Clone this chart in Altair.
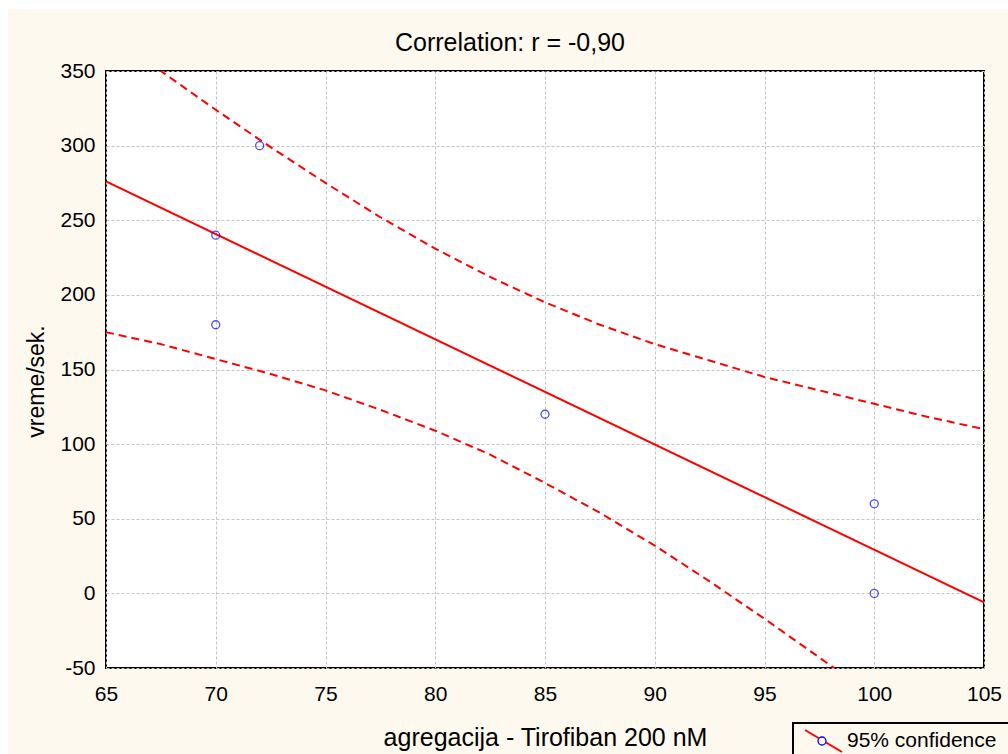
import altair as alt
import pandas as pd

# Observations
obs_x = [70, 70, 72, 85, 100, 100]
obs_y = [240, 180, 300, 120, 60, 0]

# Fitted regression line (end points)
fit_x = [65, 105]
fit_y = [276, -6]

# 95% confidence band around the fit
band_x = [65, 67.5, 70, 72.5, 75, 77.5, 80, 82.5, 85, 87.5, 90, 92.5, 95, 97.5, 100, 102.5, 105]
band_upper = [376, 350, 324, 299, 275, 252, 231, 212, 195, 180, 167, 156, 145, 136, 127, 118, 110]
band_lower = [175, 167, 157, 147, 136, 123, 109, 93, 74, 54, 32, 8, -17, -43, -69, -96, -123]

x_ticks = [65, 70, 75, 80, 85, 90, 95, 100, 105]
y_ticks = [-50, 0, 50, 100, 150, 200, 250, 300, 350]

TITLE = "Correlation: r = -0,90"
FONT = "Liberation Sans"
CREAM = "#fdf9ef"
W, H = 878, 597

obs = pd.DataFrame({"x": obs_x, "y": obs_y})
fit = pd.DataFrame({"x": fit_x, "y": fit_y})
band = pd.concat([
    pd.DataFrame({"x": band_x, "y": band_upper, "edge": "upper"}),
    pd.DataFrame({"x": band_x, "y": band_lower, "edge": "lower"}),
])
one = pd.DataFrame({"k": [0]})

x_enc = alt.X(
    "x:Q",
    scale=alt.Scale(domain=[65, 105], nice=False, zero=False),
    axis=alt.Axis(
        values=x_ticks, grid=True, gridColor="#c4c4c4", gridDash=[3, 2], gridWidth=1,
        domain=False, ticks=False, tickSize=0, labelFlush=False,
        labelExpr="'' + datum.value",
        labelFont=FONT, labelFontSize=21, labelColor="black", labelPadding=15,
        title="agregacija - Tirofiban 200 nM", titleFont=FONT, titleFontSize=25,
        titleFontWeight="normal", titleColor="black",
        titleX=439, titleY=77, titleBaseline="alphabetic",
    ),
)
y_enc = alt.Y(
    "y:Q",
    scale=alt.Scale(domain=[-50, 350], nice=False, zero=False),
    axis=alt.Axis(
        values=y_ticks, grid=True, gridColor="#c4c4c4", gridDash=[3, 2], gridWidth=1,
        domain=False, ticks=False, tickSize=0, labelFlush=False,
        labelExpr="'' + datum.value",
        labelFont=FONT, labelFontSize=21, labelColor="black", labelPadding=11,
        title="vreme/sek.", titleFont=FONT, titleFontSize=23,
        titleFontWeight="normal", titleColor="black", titleAngle=270,
        titleX=-63, titleY=310, titleBaseline="alphabetic",
    ),
)

band_lines = alt.Chart(band).mark_line(
    color="#ff0000", strokeWidth=2, strokeDash=[8, 5], clip=True
).encode(x=x_enc, y=y_enc, detail="edge:N")

fit_line = alt.Chart(fit).mark_line(
    color="#ff0000", strokeWidth=2, clip=True
).encode(x=x_enc, y=y_enc)

points = alt.Chart(obs).mark_point(
    shape="circle", filled=False, color="#0000ff", size=64, strokeWidth=1.3
).encode(x=x_enc, y=y_enc)

# White page margin at the top and left edge
margin_top = alt.Chart(one).mark_rect(color="white").encode(
    x=alt.value(-106), x2=alt.value(920), y=alt.value(-71), y2=alt.value(-62))
margin_left = alt.Chart(one).mark_rect(color="white").encode(
    x=alt.value(-106), x2=alt.value(-98), y=alt.value(-71), y2=alt.value(700))

# Heading above the plot, centred on the whole figure
heading = alt.Chart(one).mark_text(
    text=TITLE, font=FONT, fontSize=25, color="black",
    align="center", baseline="alphabetic"
).encode(x=alt.value(404), y=alt.value(-20))

# Legend box below the plot
leg_box = alt.Chart(one).mark_rect(fill=CREAM, stroke="black", strokeWidth=2).encode(
    x=alt.value(687), x2=alt.value(930), y=alt.value(652), y2=alt.value(710))
leg_line = alt.Chart(one).mark_rule(color="#ff0000", strokeWidth=2).encode(
    x=alt.value(699), x2=alt.value(736), y=alt.value(659), y2=alt.value(681))
leg_dot = alt.Chart(one).mark_point(
    shape="circle", filled=False, color="#0000ff", size=64, strokeWidth=1.3, fill=CREAM,
    fillOpacity=1
).encode(x=alt.value(716), y=alt.value(670))
leg_text = alt.Chart(one).mark_text(
    text="95% confidence", font=FONT, fontSize=21, color="black",
    align="left", baseline="alphabetic"
).encode(x=alt.value(741), y=alt.value(676))

chart = alt.layer(
    band_lines, fit_line, points,
    margin_top, margin_left, heading, leg_box, leg_line, leg_dot, leg_text,
).properties(
    width=W, height=H,
    autosize=alt.AutoSizeParams(type="none"),
    padding={"left": 106, "top": 71, "right": 24, "bottom": 86},
).configure(
    background=CREAM,
).configure_view(
    fill="white", stroke="black", strokeWidth=2,
)

chart.save("out.html", embed_options={"renderer": "svg", "actions": False})
